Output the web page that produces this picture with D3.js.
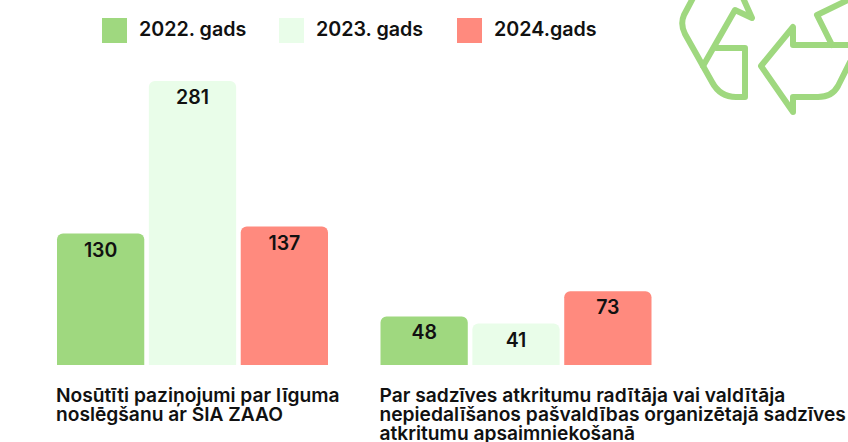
<!DOCTYPE html>
<html>
<head>
<meta charset="utf-8">
<script src="https://cdnjs.cloudflare.com/ajax/libs/d3/7.8.5/d3.min.js"></script>
<style>
  html, body { margin: 0; padding: 0; background: #fff; overflow: hidden; }
  text { font-family: Inter, "Noto Sans", sans-serif; font-weight: 600; fill: #111; }
</style>
</head>
<body>
<div id="chart"></div>
<script>
const categories = ["noslegsana", "nepiedalisanas"];
const categoryLines = [
  ["Nosūtīti paziņojumi par līguma", "noslēgšanu ar SIA ZAAO"],
  ["Par sadzīves atkritumu radītāja vai valdītāja", "nepiedalīšanos pašvaldības organizētajā sadzīves", "atkritumu apsaimniekošanā"]
];
const seriesNames = ["2022. gads", "2023. gads", "2024.gads"];
const seriesColors = ["#9fd87f", "#e9fde9", "#ff8a7e"];
const values2022 = [130, 48];
const values2023 = [281, 41];
const values2024 = [137, 73];
const legendX = [102, 279, 457];

const width = 848, height = 442;
const seriesValues = [values2022, values2023, values2024];

const svg = d3.select("#chart").append("svg")
    .attr("width", width)
    .attr("height", height);

// scales
const x0 = d3.scaleBand().domain(categories).range([57, 704]);
const x1 = d3.scaleBand().domain(seriesNames).range([0, 271]).paddingInner(0.05);
const y = d3.scaleLinear().domain([0, 281]).range([365, 81]);

// bar with rounded top corners only
function topRounded(px, py, w, h, r) {
    const p = d3.path();
    p.moveTo(px, py + h);
    p.lineTo(px, py + r);
    p.arcTo(px, py, px + r, py, r);
    p.lineTo(px + w - r, py);
    p.arcTo(px + w, py, px + w, py + r, r);
    p.lineTo(px + w, py + h);
    p.closePath();
    return p.toString();
}

// recycling icon in the top right corner, cropped by the page edge
const icon = svg.append("g")
    .attr("fill", "none")
    .attr("stroke", seriesColors[0])
    .attr("stroke-width", 6)
    .attr("stroke-linecap", "round")
    .attr("stroke-linejoin", "round");
[
  "M693,-2 L684,15 Q680,24 685,34 L712,82 Q720,97 736,97 L745,97 L745,48 L716,48",
  "M703,66 L735,10 L752,18 L743,-2",
  "M850,62 L838,86 Q832,97 818,97 L793,97 L793,112 L761,66 L793,27 L793,45 L850,45",
  "M850,-1 L817,15 L832,45"
].forEach(function(d) { icon.append("path").attr("d", d); });

// legend
const legend = svg.append("g").selectAll("g")
    .data(seriesNames)
    .enter().append("g")
    .attr("transform", function(d, i) { return "translate(" + legendX[i] + ",18)"; });
legend.append("rect")
    .attr("width", 25)
    .attr("height", 25)
    .attr("fill", function(d, i) { return seriesColors[i]; });
legend.append("text")
    .attr("x", 37)
    .attr("y", 18)
    .style("font-size", "19.7px")
    .text(function(d) { return d; });

// bars
seriesNames.forEach(function(name, s) {
    const g = svg.append("g");
    g.selectAll("path")
        .data(seriesValues[s])
        .enter().append("path")
        .attr("d", function(d, i) {
            return topRounded(x0(categories[i]) + x1(name), y(d), x1.bandwidth(), y(0) - y(d), 6);
        })
        .attr("fill", seriesColors[s]);
    g.selectAll("text")
        .data(seriesValues[s])
        .enter().append("text")
        .attr("x", function(d, i) { return x0(categories[i]) + x1(name) + x1.bandwidth() / 2; })
        .attr("y", function(d) { return y(d) + 23; })
        .attr("text-anchor", "middle")
        .style("font-size", "19.5px")
        .text(function(d) { return d; });
});

// category labels
const labels = svg.append("g").selectAll("text")
    .data(categoryLines)
    .enter().append("text")
    .attr("x", function(d, i) { return x0(categories[i]) - 1; })
    .attr("y", 402)
    .style("font-size", "19.2px");
labels.selectAll("tspan")
    .data(function(d) { return d; })
    .enter().append("tspan")
    .attr("x", function() { return this.parentNode.getAttribute("x"); })
    .attr("dy", function(d, i) { return i ? 19 : 0; })
    .text(function(d) { return d; });
</script>
</body>
</html>
